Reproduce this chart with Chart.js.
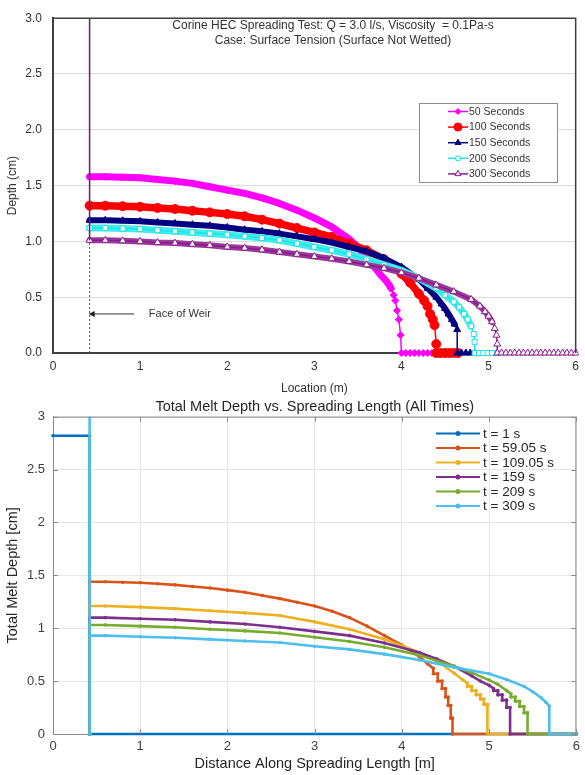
<!DOCTYPE html>
<html><head><meta charset="utf-8">
<script src="https://cdn.jsdelivr.net/npm/chart.js@4"></script>
<style>
html,body{margin:0;padding:0;background:#fff;}
#topBox{position:absolute;left:0;top:0;width:585px;height:400px;}
#botBox{position:absolute;left:0;top:390px;width:585px;height:385px;}
</style></head>
<body>
<div id="topBox"><canvas id="c1"></canvas></div>
<div id="botBox"><canvas id="c2"></canvas></div>
<script>
// ===== Top chart data: Depth (cm) vs Location (m) =====
const topLabels = ['50 Seconds','100 Seconds','150 Seconds','200 Seconds','300 Seconds'];
const s50x = [0.42,0.6,0.8,1.0,1.2,1.4,1.6,1.8,2.0,2.2,2.4,2.6,2.8,3.0,3.2,3.4,3.5,3.6,3.7,3.76,3.81,3.85,3.88,3.91,3.93,3.95,3.97,3.99,4.0,4.05,4.1,4.15,4.2,4.25,4.3,4.35,4.4];
const s50y = [1.58,1.58,1.575,1.57,1.555,1.54,1.52,1.49,1.46,1.43,1.39,1.34,1.28,1.21,1.13,1.02,0.95,0.86,0.76,0.70,0.66,0.62,0.58,0.52,0.47,0.38,0.30,0.16,0,0,0,0,0,0,0,0,0];
const s100x = [0.42,0.6,0.8,1.0,1.2,1.4,1.6,1.8,2.0,2.2,2.4,2.6,2.8,3.0,3.2,3.4,3.6,3.8,3.9,4.0,4.1,4.2,4.26,4.3,4.33,4.36,4.38,4.4,4.4,4.45,4.5,4.55,4.6,4.65];
const s100y = [1.32,1.32,1.315,1.31,1.30,1.29,1.275,1.26,1.245,1.225,1.195,1.16,1.12,1.08,1.04,0.98,0.92,0.84,0.78,0.71,0.63,0.53,0.47,0.42,0.35,0.30,0.25,0.08,0,0,0,0,0,0];
const s150x = [0.42,0.6,0.8,1.0,1.2,1.4,1.6,1.8,2.0,2.2,2.4,2.6,2.8,3.0,3.2,3.4,3.6,3.8,4.0,4.2,4.3,4.4,4.46,4.5,4.54,4.58,4.61,4.64,4.64,4.69,4.74,4.79,4.84];
const s150y = [1.19,1.19,1.185,1.18,1.17,1.16,1.15,1.14,1.125,1.105,1.09,1.07,1.045,1.02,0.99,0.95,0.91,0.85,0.77,0.66,0.58,0.50,0.44,0.40,0.35,0.30,0.26,0.21,0,0,0,0,0];
const s200x = [0.42,0.6,0.8,1.0,1.2,1.4,1.6,1.8,2.0,2.2,2.4,2.6,2.8,3.0,3.2,3.4,3.6,3.8,4.0,4.2,4.4,4.5,4.6,4.66,4.72,4.76,4.8,4.83,4.84,4.84,4.89,4.94,4.99,5.04,5.1];
const s200y = [1.12,1.12,1.115,1.11,1.10,1.09,1.08,1.07,1.06,1.045,1.03,1.01,0.98,0.95,0.92,0.885,0.84,0.79,0.74,0.67,0.58,0.52,0.46,0.41,0.35,0.30,0.24,0.17,0.10,0,0,0,0,0,0];
const s300x = [0.42,0.6,0.8,1.0,1.2,1.4,1.6,1.8,2.0,2.2,2.4,2.6,2.8,3.0,3.2,3.4,3.6,3.8,4.0,4.2,4.4,4.6,4.8,4.9,4.96,5.0,5.04,5.07,5.09,5.1,5.1,5.15,5.2,5.25,5.3,5.35,5.4,5.45,5.5,5.55,5.6,5.65,5.7,5.75,5.8,5.85,5.9,5.95,6.0];
const s300y = [1.01,1.01,1.005,1.0,0.99,0.985,0.975,0.965,0.95,0.94,0.925,0.905,0.885,0.865,0.845,0.82,0.79,0.76,0.72,0.67,0.61,0.55,0.48,0.42,0.37,0.33,0.28,0.22,0.16,0.08,0,0,0,0,0,0,0,0,0,0,0,0,0,0,0,0,0,0,0];
const weirX = [0.42,0.42];
const weirDotY = [0,3.0];
const weirWallY = [1.01,3.0];
const weirNote = {text:'Face of Weir', y:0.35, arrowFrom:0.93, arrowTo:0.41, textX:1.1};
const topTitle = ['Corine HEC Spreading Test: Q = 3.0 l/s, Viscosity  = 0.1Pa-s','Case: Surface Tension (Surface Not Wetted)'];

// ===== Bottom chart data: Total Melt Depth [cm] vs Distance [m] =====
const botLabels = ['t = 1 s','t = 59.05 s','t = 109.05 s','t = 159 s','t = 209 s','t = 309 s'];
const b1x = [0,0.42,0.42,6.0];
const b1y = [2.82,2.82,0,0];
const b59x = [0.42,0.42,0.6,0.8,1.0,1.2,1.4,1.6,1.8,2.0,2.2,2.4,2.6,2.8,3.0,3.2,3.4,3.6,3.8,4.0,4.2,4.3,4.36,4.36,4.41,4.41,4.46,4.46,4.5,4.5,4.53,4.53,4.56,4.56,4.58,4.58,6.0];
const b59y = [0,1.44,1.44,1.435,1.43,1.42,1.41,1.395,1.38,1.36,1.34,1.31,1.28,1.245,1.21,1.16,1.10,1.02,0.93,0.84,0.73,0.66,0.62,0.57,0.57,0.50,0.50,0.43,0.43,0.35,0.35,0.27,0.27,0.15,0.15,0,0];
const b109x = [0.42,0.42,0.6,1.0,1.4,1.8,2.2,2.6,3.0,3.4,3.8,4.0,4.2,4.4,4.6,4.7,4.75,4.75,4.8,4.8,4.85,4.85,4.9,4.9,4.94,4.94,4.98,4.98,6.0];
const b109y = [0,1.21,1.21,1.20,1.185,1.165,1.145,1.12,1.06,0.99,0.895,0.835,0.77,0.69,0.575,0.51,0.48,0.45,0.45,0.41,0.41,0.37,0.37,0.33,0.33,0.28,0.28,0,0];
const b159x = [0.42,0.42,0.6,1.0,1.4,1.8,2.2,2.6,3.0,3.4,3.8,4.2,4.4,4.6,4.8,4.9,5.0,5.05,5.05,5.1,5.1,5.15,5.15,5.2,5.2,5.24,5.24,6.0];
const b159y = [0,1.10,1.10,1.09,1.08,1.06,1.04,1.01,0.97,0.93,0.86,0.77,0.71,0.64,0.55,0.50,0.46,0.43,0.41,0.41,0.37,0.37,0.32,0.32,0.25,0.25,0,0];
const b209x = [0.42,0.42,0.6,1.0,1.4,1.8,2.2,2.6,3.0,3.4,3.8,4.2,4.6,4.8,5.0,5.1,5.2,5.25,5.25,5.3,5.3,5.35,5.35,5.4,5.4,5.44,5.44,6.0];
const b209y = [0,1.03,1.03,1.02,1.01,0.99,0.975,0.955,0.915,0.875,0.82,0.745,0.64,0.58,0.51,0.47,0.41,0.38,0.35,0.35,0.31,0.31,0.26,0.26,0.20,0.20,0,0];
const b309x = [0.42,0.42,0.42,0.6,1.0,1.4,1.8,2.2,2.6,3.0,3.4,3.8,4.2,4.6,5.0,5.2,5.4,5.5,5.6,5.65,5.69,5.69,6.0];
const b309y = [3.2,0,0.93,0.93,0.92,0.91,0.895,0.88,0.865,0.83,0.80,0.755,0.70,0.63,0.57,0.515,0.45,0.40,0.34,0.30,0.265,0,0];
const botTitle = 'Total Melt Depth vs. Spreading Length (All Times)';

// ===== helpers / styles =====
const FONT = "Arial, 'Liberation Sans', Helvetica, sans-serif";
function pts(xs, ys){ return xs.map((x,i)=>({x:x, y:ys[i]})); }
// gently sloping pieces of a series, drawn as a thick band (the original has very dense markers there)
function bandPts(xs, ys){
  const out = []; let last = -2;
  for (let i = 0; i < xs.length - 1; i++){
    const dx = Math.abs(xs[i+1] - xs[i]);
    const ok = ys[i] > 0.05 && ys[i+1] > 0.05 && dx > 1e-6 && Math.abs(ys[i+1] - ys[i]) / dx < 1.6;
    if (!ok) continue;
    if (last !== i){ if (out.length) out.push({x:xs[i], y:null}); out.push({x:xs[i], y:ys[i]}); }
    out.push({x:xs[i+1], y:ys[i+1]}); last = i + 1;
  }
  return out;
}
const CLIP = {left:2, top:0, right:3, bottom:5};

const topSeries = [[s50x,s50y],[s100x,s100y],[s150x,s150y],[s200x,s200y],[s300x,s300y]];
const topStyles = [
  {color:'#FF00FF', fill:'#FF00FF', band:'#FF00FF', shape:'rectRot', r:3.5, bandW:7},
  {color:'#FF0000', fill:'#FF0000', band:'#FF0000', shape:'circle', r:4.5, bandW:7.5},
  {color:'#000080', fill:'#000080', band:'#000080', shape:'triangle', r:4, bandW:6},
  {color:'#19E6E6', fill:'#FFFFFF', band:'#45EAEA', shape:'rect', r:3.5, bandW:7},
  {color:'#8B1A8B', fill:'#FFFFFF', band:'#9A3A9A', shape:'triangle', r:4, bandW:6}
];
const topDatasets = [];
topSeries.forEach((s,i)=>{
  const st = topStyles[i];
  topDatasets.push({
    label: topLabels[i], data: pts(s[0], s[1]),
    borderColor: st.color, backgroundColor: st.fill, borderWidth: 1.5,
    pointStyle: st.shape, pointRadius: st.r, pointBorderColor: st.color,
    pointBackgroundColor: st.fill, pointBorderWidth: 1, tension: 0,
    order: 10 - i, clip: CLIP
  });
  topDatasets.push({
    label: topLabels[i] + ' band', data: bandPts(s[0], s[1]),
    borderColor: st.band, backgroundColor: st.band, borderWidth: st.bandW, pointRadius: 0, tension: 0,
    spanGaps: false, borderCapStyle:'round', borderJoinStyle:'round',
    order: 10.5 - i, clip: CLIP
  });
});
topDatasets.push({label:'weirDot', data: pts(weirX, weirDotY), borderColor:'#555', borderWidth:1, borderDash:[2,2], pointRadius:0, order:30});
topDatasets.push({label:'weirWall', data: pts(weirX, weirWallY), borderColor:'#6B1F6B', borderWidth:1.5, pointRadius:0, order:0});

const topPlugin = {
  id:'topDecor',
  afterDraw(chart){
    const ctx = chart.ctx, a = chart.chartArea, xs = chart.scales.x, ys = chart.scales.y;
    ctx.save();
    ctx.strokeStyle = '#404040'; ctx.lineWidth = 1.5;
    ctx.beginPath(); ctx.moveTo(a.left, a.top); ctx.lineTo(a.right, a.top); ctx.lineTo(a.right, a.bottom); ctx.stroke();
    ctx.fillStyle = '#333'; ctx.font = '12px ' + FONT; ctx.textAlign = 'center'; ctx.textBaseline = 'middle';
    ctx.fillText(topTitle[0], 333, 26);
    ctx.fillText(topTitle[1], 333, 40.5);
    const ay = ys.getPixelForValue(weirNote.y);
    const x1 = xs.getPixelForValue(weirNote.arrowFrom), x0 = xs.getPixelForValue(weirNote.arrowTo);
    ctx.strokeStyle = '#333'; ctx.lineWidth = 1;
    ctx.beginPath(); ctx.moveTo(x1, ay); ctx.lineTo(x0 + 4, ay); ctx.stroke();
    ctx.fillStyle = '#222';
    ctx.beginPath(); ctx.moveTo(x0, ay); ctx.lineTo(x0 + 6, ay - 3); ctx.lineTo(x0 + 6, ay + 3); ctx.closePath(); ctx.fill();
    ctx.fillStyle = '#333'; ctx.font = '11px ' + FONT; ctx.textAlign = 'left';
    ctx.fillText(weirNote.text, xs.getPixelForValue(weirNote.textX), ay);
    const lx = 419.5, ly = 103.5, lw = 138, lh = 79;
    ctx.fillStyle = '#fff'; ctx.fillRect(lx, ly, lw, lh);
    ctx.strokeStyle = '#8c8c8c'; ctx.lineWidth = 1; ctx.strokeRect(lx, ly, lw, lh);
    ctx.font = '10.5px ' + FONT; ctx.textBaseline = 'middle';
    topLabels.forEach((lab, i)=>{
      const st = topStyles[i], yy = 111.5 + i * 15.6;
      ctx.strokeStyle = st.color; ctx.lineWidth = 1.5;
      ctx.beginPath(); ctx.moveTo(448, yy); ctx.lineTo(468, yy); ctx.stroke();
      ctx.fillStyle = st.fill; ctx.strokeStyle = st.color; ctx.lineWidth = 1;
      Chart.helpers.drawPoint(ctx, {pointStyle: st.shape, radius: st.r - 0.5, rotation: 0, borderWidth: 1}, 458, yy);
      ctx.fillStyle = '#333'; ctx.textAlign = 'left';
      ctx.fillText(lab, 469, yy + 0.5);
    });
    ctx.restore();
  }
};

new Chart(document.getElementById('c1'), {
  type:'line',
  data:{datasets: topDatasets},
  options:{
    responsive:true, maintainAspectRatio:false, animation:false, devicePixelRatio:1,
    layout:{padding:{top:13, right:2, left:0, bottom:0}},
    plugins:{legend:{display:false}, tooltip:{enabled:false}},
    scales:{
      x:{type:'linear', min:0, max:6,
        ticks:{stepSize:1, color:'#333', font:{family:FONT, size:12}, padding:6, maxRotation:0},
        grid:{display:false, drawTicks:false},
        border:{display:true, color:'#404040', width:2},
        title:{display:true, text:'Location (m)', color:'#333', font:{family:FONT, size:12}, padding:{top:0, bottom:4}},
        afterFit(s){ s.height = 47; }
      },
      y:{type:'linear', min:0, max:3,
        ticks:{stepSize:0.5, color:'#333', font:{family:FONT, size:12}, padding:11, callback:v=>Number(v).toFixed(1)},
        grid:{color:'#dcdcdc', drawTicks:false},
        border:{display:true, color:'#404040', width:2},
        title:{display:true, text:'Depth (cm)', color:'#333', font:{family:FONT, size:12}, padding:{top:5, bottom:0}},
        afterFit(s){ s.width = 53; }
      }
    }
  },
  plugins:[topPlugin]
});

// ===== Bottom chart =====
const botSeries = [[b1x,b1y],[b59x,b59y],[b109x,b109y],[b159x,b159y],[b209x,b209y],[b309x,b309y]];
const botColors = ['#0072BD','#D95319','#EDB120','#7E2F8E','#77AC30','#4DBEEE'];
const botDatasets = botSeries.map((s,i)=>({
  label: botLabels[i], data: pts(s[0], s[1]),
  borderColor: botColors[i], backgroundColor: botColors[i], borderWidth: 2.6,
  pointRadius: 1.8, pointBorderWidth: 0, pointBackgroundColor: botColors[i], tension: 0,
  order: 10 - i, clip: CLIP
}));

const botPlugin = {
  id:'botDecor',
  afterDraw(chart){
    const ctx = chart.ctx, a = chart.chartArea, xs = chart.scales.x, ys = chart.scales.y;
    ctx.save();
    ctx.strokeStyle = '#8a8a8a'; ctx.lineWidth = 1;
    ctx.beginPath(); ctx.moveTo(a.left, a.top + 0.5); ctx.lineTo(a.right - 0.5, a.top + 0.5); ctx.lineTo(a.right - 0.5, a.bottom); ctx.stroke();
    ctx.beginPath();
    xs.ticks.forEach(t=>{ const px = Math.round(xs.getPixelForValue(t.value)) + 0.5;
      ctx.moveTo(px, a.bottom); ctx.lineTo(px, a.bottom - 5); ctx.moveTo(px, a.top); ctx.lineTo(px, a.top + 5); });
    ys.ticks.forEach(t=>{ const py = Math.round(ys.getPixelForValue(t.value)) + 0.5;
      ctx.moveTo(a.left, py); ctx.lineTo(a.left + 5, py); ctx.moveTo(a.right, py); ctx.lineTo(a.right - 5, py); });
    ctx.stroke();
    ctx.fillStyle = '#262626'; ctx.font = '14.5px ' + FONT; ctx.textAlign = 'center'; ctx.textBaseline = 'middle';
    ctx.fillText(botTitle, (a.left + a.right) / 2, 17);
    ctx.font = '13.5px ' + FONT; ctx.textAlign = 'left';
    botLabels.forEach((lab, i)=>{
      const yy = 43.5 + i * 14.5;
      ctx.strokeStyle = botColors[i]; ctx.lineWidth = 2;
      ctx.beginPath(); ctx.moveTo(436, yy); ctx.lineTo(480, yy); ctx.stroke();
      ctx.fillStyle = botColors[i];
      ctx.beginPath(); ctx.arc(458, yy, 2.5, 0, Math.PI * 2); ctx.fill();
      ctx.fillStyle = '#262626';
      ctx.fillText(lab, 483, yy + 0.5);
    });
    ctx.restore();
  }
};

new Chart(document.getElementById('c2'), {
  type:'line',
  data:{datasets: botDatasets},
  options:{
    responsive:true, maintainAspectRatio:false, animation:false, devicePixelRatio:1,
    layout:{padding:{top:26.7, right:2, left:0, bottom:0}},
    plugins:{legend:{display:false}, tooltip:{enabled:false}},
    scales:{
      x:{type:'linear', min:0, max:6,
        ticks:{stepSize:1, color:'#404040', font:{family:FONT, size:13}, padding:5, maxRotation:0},
        grid:{color:'#e6e6e6', drawTicks:false},
        border:{display:true, color:'#8a8a8a', width:1},
        title:{display:true, text:'Distance Along Spreading Length [m]', color:'#262626', font:{family:FONT, size:14.5}, padding:{top:0, bottom:2.5}},
        afterFit(s){ s.height = 41; }
      },
      y:{type:'linear', min:0, max:3,
        ticks:{stepSize:0.5, color:'#404040', font:{family:FONT, size:13}, padding:8, callback:v=>String(v)},
        grid:{color:'#e6e6e6', drawTicks:false},
        border:{display:true, color:'#8a8a8a', width:1},
        title:{display:true, text:'Total Melt Depth [cm]', color:'#262626', font:{family:FONT, size:14.5}, padding:{top:4.5, bottom:0}},
        afterFit(s){ s.width = 53; }
      }
    }
  },
  plugins:[botPlugin]
});
</script>
</body></html>
